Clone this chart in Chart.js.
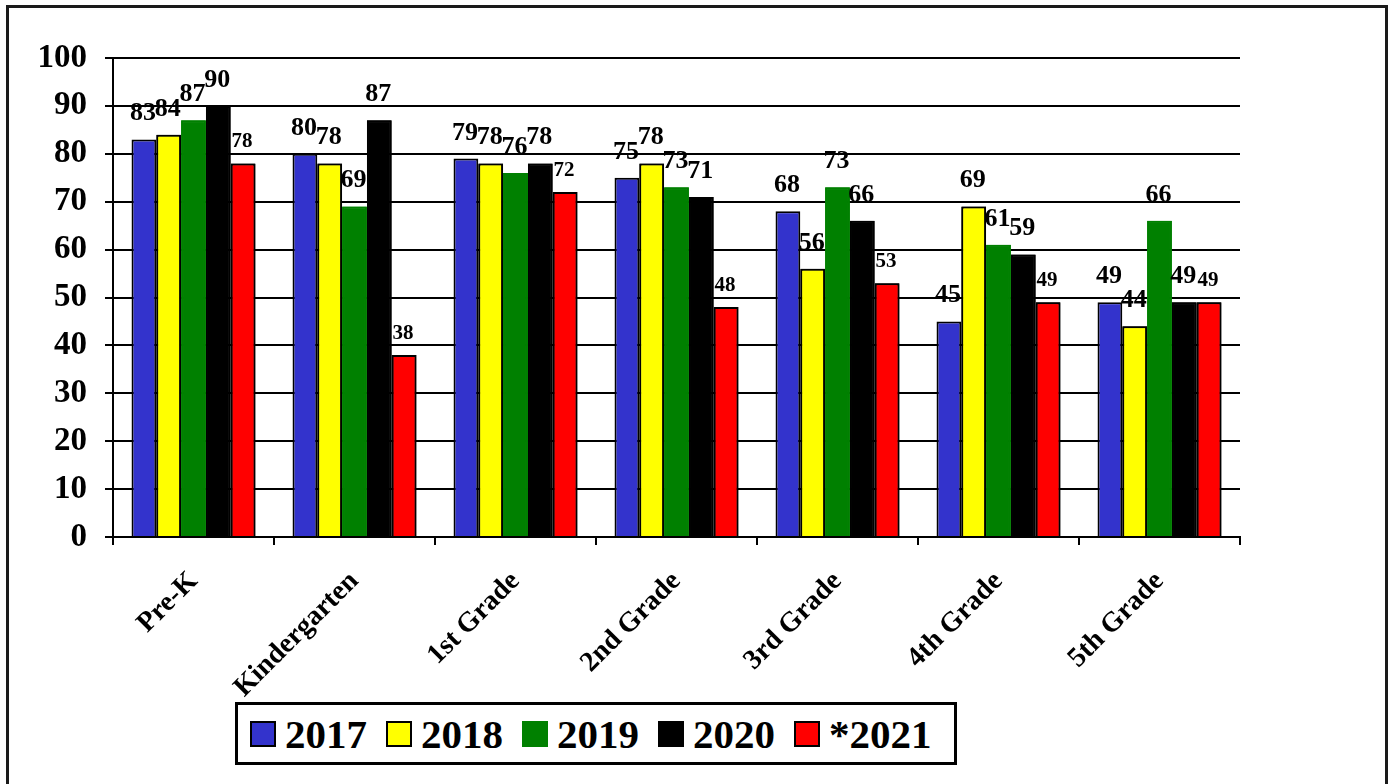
<!DOCTYPE html>
<html>
<head>
<meta charset="utf-8">
<script src="https://cdn.jsdelivr.net/npm/chart.js"></script>
<style>
    body { margin: 0; background: #fff; }
    #wrap { position: relative; width: 1395px; height: 784px; overflow: hidden; }
    #frame { position: absolute; left: 6px; top: 5px; width: 1382px; height: 800px; border: 3px solid #1a1a1a; box-sizing: border-box; }
    #chart { position: absolute; left: 0; top: 0; }
    #legend {
        position: absolute; left: 235px; top: 702px; width: 722px; height: 63px;
        border: 3px solid #000; box-sizing: border-box; background: #fff;
        display: flex; align-items: center; padding-left: 12px;
        font-family: "Liberation Serif", "Times New Roman", serif; font-weight: bold; font-size: 41px;
    }
    .item { display: flex; align-items: center; margin-right: 19px; }
    .swatch { width: 26px; height: 26px; border: 2px solid #000; box-sizing: border-box; margin-right: 9px; }
</style>
</head>
<body>
<div id="wrap">
    <div id="frame"></div>
    <canvas id="chart" width="1395" height="784"></canvas>
    <div id="legend"></div>
</div>
<script>
    const grades = ["Pre-K", "Kindergarten", "1st Grade", "2nd Grade", "3rd Grade", "4th Grade", "5th Grade"];
    const yearNames = ["2017", "2018", "2019", "2020", "*2021"];
    const values2017 = [83, 80, 79, 75, 68, 45, 49];
    const values2018 = [84, 78, 78, 78, 56, 69, 44];
    const values2019 = [87, 69, 76, 73, 73, 61, 66];
    const values2020 = [90, 87, 78, 71, 66, 59, 49];
    const values2021 = [78, 38, 72, 48, 53, 49, 49];
    const yTicks = [0, 10, 20, 30, 40, 50, 60, 70, 80, 90, 100];

    const fills = ["#3333CC", "#FFFF00", "#008000", "#000000", "#FF0000"];
    const edges = ["#000000", "#000000", "#008000", "#000000", "#000000"];
    const serif = "'Liberation Serif', 'Times New Roman', serif";

    const allValues = [values2017, values2018, values2019, values2020, values2021];

    // labels of one series get covered by the next series' bars, like the original
    const barLabels = {
        id: "barLabels",
        afterDatasetsDraw(chart) {
            const ctx = chart.ctx;
            const n = chart.data.datasets.length;
            for (let i = 0; i < n; i++) {
                const meta = chart.getDatasetMeta(i);
                const small = i === n - 1;
                ctx.save();
                ctx.fillStyle = "#000";
                ctx.textAlign = "center";
                ctx.textBaseline = "alphabetic";
                ctx.font = "bold " + (small ? 21 : 26) + "px " + serif;
                meta.data.forEach((bar, j) => {
                    ctx.fillText(String(chart.data.datasets[i].data[j]), bar.x - 1, bar.y - (small ? 16 : 19));
                });
                ctx.restore();
                if (i + 1 < n) {
                    chart.getDatasetMeta(i + 1).controller.draw();
                }
            }
        }
    };

    new Chart(document.getElementById("chart"), {
        type: "bar",
        data: {
            labels: grades,
            datasets: yearNames.map((name, i) => ({
                label: name,
                data: allValues[i],
                backgroundColor: fills[i],
                borderColor: edges[i],
                borderWidth: 2,
                categoryPercentage: 0.77,
                barPercentage: 1.0
            }))
        },
        options: {
            responsive: false,
            devicePixelRatio: 1,
            animation: false,
            layout: { padding: { top: 58, right: 155, left: 0, bottom: 0 } },
            plugins: {
                legend: { display: false },
                tooltip: { enabled: false }
            },
            scales: {
                x: {
                    grid: { display: true, drawOnChartArea: false, drawTicks: true, tickLength: 8, color: "#000", lineWidth: 2, offset: true },
                    border: { display: true, color: "#000", width: 2 },
                    ticks: {
                        color: "#000",
                        font: { family: serif, weight: "bold", size: 28 },
                        minRotation: 45,
                        maxRotation: 45,
                        padding: 20
                    },
                    afterFit(scale) { scale.height = 784 - 537; }
                },
                y: {
                    min: 0,
                    max: 100,
                    afterBuildTicks(scale) { scale.ticks = yTicks.map(v => ({ value: v })); },
                    grid: { color: "#000", lineWidth: 2, drawTicks: true, tickLength: 8 },
                    border: { display: true, color: "#000", width: 2 },
                    ticks: {
                        color: "#000",
                        font: { family: serif, weight: "bold", size: 33 },
                        padding: 18
                    },
                    afterFit(scale) { scale.width = 113; }
                }
            }
        },
        plugins: [barLabels]
    });

    // legend box under the chart
    const legendBox = document.getElementById("legend");
    yearNames.forEach((name, i) => {
        const item = document.createElement("div");
        item.className = "item";
        const sw = document.createElement("div");
        sw.className = "swatch";
        sw.style.background = fills[i];
        if (i === 2) sw.style.borderColor = "#008000";
        const txt = document.createElement("span");
        txt.textContent = name;
        item.appendChild(sw);
        item.appendChild(txt);
        legendBox.appendChild(item);
    });
</script>
</body>
</html>
